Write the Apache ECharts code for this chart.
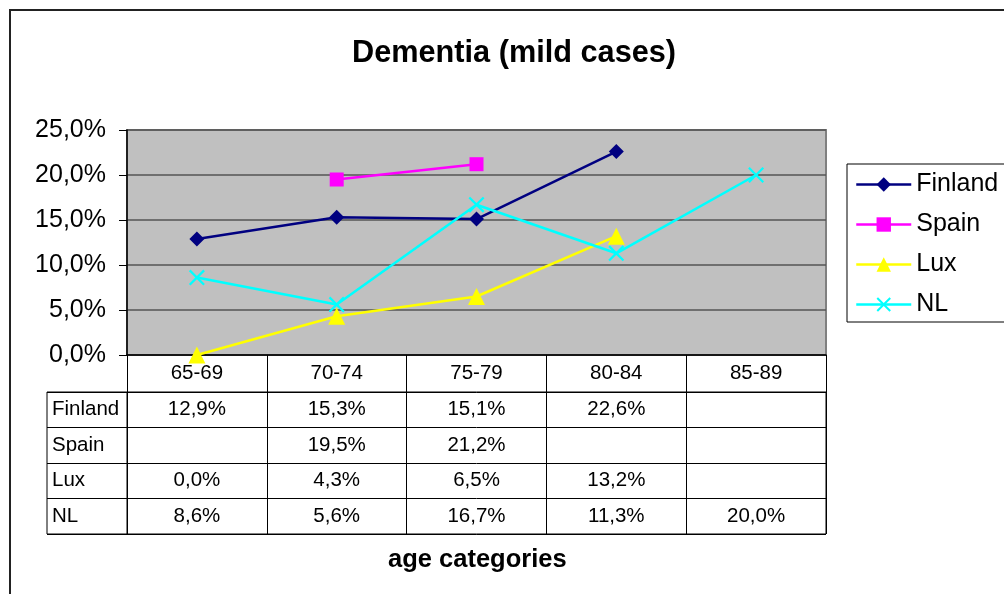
<!DOCTYPE html>
<html>
<head>
<meta charset="utf-8">
<title>Dementia (mild cases)</title>
<script src="https://cdn.jsdelivr.net/npm/echarts@6/dist/echarts.min.js"></script>
<style>
  html, body { margin: 0; padding: 0; background: #fff; }
  #chart { width: 1004px; height: 594px; }
</style>
</head>
<body>
<div id="chart"></div>
<script>
// Age groups on the x axis
const categories = ['65-69', '70-74', '75-79', '80-84', '85-89'];

// Share of mild dementia cases per country, in percent (null = no data)
const finland = [12.9, 15.3, 15.1, 22.6, null];
const spain   = [null, 19.5, 21.2, null, null];
const lux     = [0.0, 4.3, 6.5, 13.2, null];
const nl      = [8.6, 5.6, 16.7, 11.3, 20.0];

const countries = ['Finland', 'Spain', 'Lux', 'NL'];
const seriesValues = [finland, spain, lux, nl];

// Y axis ticks in percent
const yTicks = [0, 5, 10, 15, 20, 25];

const FONT = "'Liberation Sans', Arial, sans-serif";
const TABLE_FONT_SIZE = 20.5;
const pct = v => v.toFixed(1).replace('.', ',') + '%';

// Cells of the data table under the plot: [column, row, value]
const tableCells = [];
seriesValues.forEach((vals, r) => {
  vals.forEach((v, c) => { if (v !== null) tableCells.push([c, r, v]); });
});

const crossSymbol = 'path://M0,1L1,0L5,4L9,0L10,1L6,5L10,9L9,10L5,6L1,10L0,9L4,5Z';

const colors = ['#000080', '#FF00FF', '#FFFF00', '#00FFFF'];
const symbols = ['diamond', 'rect', 'triangle', crossSymbol];
const symbolSizes = [15, 14, 17, 16];

const chart = echarts.init(document.getElementById('chart'), null, { renderer: 'canvas' });

const lineSeries = countries.map((name, i) => ({
  name: name,
  type: 'line',
  xAxisIndex: 0,
  yAxisIndex: 0,
  data: seriesValues[i],
  symbol: symbols[i],
  symbolSize: symbolSizes[i],
  showAllSymbol: true,
  clip: false,
  lineStyle: { color: colors[i], width: 2.5 },
  itemStyle: { color: colors[i] },
  emphasis: { disabled: true },
  z: 3 + i
}));

chart.setOption({
  animation: false,
  textStyle: { fontFamily: FONT, color: '#000' },
  title: [
    {
      text: 'Dementia (mild cases)',
      left: 347,
      top: 33,
      textStyle: { fontFamily: FONT, fontSize: 30.7, fontWeight: 'bold', color: '#000' }
    },
    {
      text: 'age categories',
      left: 383,
      top: 542,
      textStyle: { fontFamily: FONT, fontSize: 25.5, fontWeight: 'bold', color: '#000' }
    }
  ],
  legend: {
    orient: 'vertical',
    left: 847,
    top: 164,
    data: countries,
    itemWidth: 55,
    itemHeight: 18,
    itemGap: 15,
    padding: [8, 40, 5, 8],
    borderColor: '#000',
    borderWidth: 1,
    backgroundColor: '#fff',
    lineStyle: { width: 2.5 },
    textStyle: { fontFamily: FONT, fontSize: 25, color: '#000' },
    selectedMode: false
  },
  graphic: [
    {
      type: 'rect',
      shape: { x: 10, y: 10, width: 1100, height: 700 },
      style: { fill: 'none', stroke: '#222', lineWidth: 2 },
      silent: true,
      z: 0
    }
  ],
  grid: [
    { left: 127, top: 130, width: 699, height: 225, show: true,
      backgroundColor: '#C0C0C0', borderColor: '#808080', borderWidth: 2 },
    { left: 127, top: 392, width: 699, height: 142, show: true,
      backgroundColor: '#fff', borderColor: '#000', borderWidth: 1 },
    { left: 47, top: 392, width: 80, height: 142, show: true,
      backgroundColor: '#fff', borderColor: '#000', borderWidth: 1 }
  ],
  xAxis: [
    {
      gridIndex: 0,
      type: 'category',
      data: categories,
      boundaryGap: true,
      axisLine: { show: true, lineStyle: { color: '#000', width: 1.5 } },
      axisTick: { show: true, length: 37, interval: 0, lineStyle: { color: '#000', width: 1 } },
      axisLabel: { fontSize: TABLE_FONT_SIZE, margin: 8, color: '#000', fontFamily: FONT, interval: 0 },
      splitLine: { show: false }
    },
    {
      gridIndex: 1,
      type: 'category',
      data: categories,
      boundaryGap: true,
      axisLine: { show: false },
      axisTick: { show: false },
      axisLabel: { show: false },
      splitLine: { show: true, interval: 0, lineStyle: { color: '#000', width: 1 } }
    },
    {
      gridIndex: 2,
      type: 'value',
      show: false
    }
  ],
  yAxis: [
    {
      gridIndex: 0,
      type: 'value',
      min: yTicks[0],
      max: yTicks[yTicks.length - 1],
      interval: yTicks[1] - yTicks[0],
      axisLine: { show: true, lineStyle: { color: '#000', width: 1.5 } },
      axisTick: { show: true, length: 8, lineStyle: { color: '#000', width: 1 } },
      axisLabel: { fontSize: 25, margin: 21, color: '#000', fontFamily: FONT, formatter: v => pct(v) },
      splitLine: { show: true, lineStyle: { color: '#555', width: 1.5 } }
    },
    {
      gridIndex: 1,
      type: 'category',
      data: countries,
      inverse: true,
      axisLine: { show: false },
      axisTick: { show: false },
      axisLabel: { show: false },
      splitLine: { show: true, interval: 0, lineStyle: { color: '#000', width: 1 } }
    },
    {
      gridIndex: 2,
      type: 'category',
      data: countries,
      inverse: true,
      axisLine: { show: false },
      axisTick: { show: false },
      axisLabel: {
        show: true, inside: true, margin: 5, fontSize: TABLE_FONT_SIZE, color: '#000',
        fontFamily: FONT, interval: 0, padding: [3, 0, 0, 0]
      },
      splitLine: { show: true, interval: 0, lineStyle: { color: '#000', width: 1 } }
    }
  ],
  series: lineSeries.concat([
    {
      name: 'table',
      type: 'scatter',
      xAxisIndex: 1,
      yAxisIndex: 1,
      data: tableCells,
      symbolSize: 1,
      itemStyle: { color: 'rgba(0,0,0,0)', opacity: 1 },
      silent: true,
      label: {
        show: true,
        position: 'inside',
        fontSize: TABLE_FONT_SIZE,
        color: '#000',
        textBorderWidth: 0,
        textBorderColor: 'transparent',
        fontFamily: FONT,
        formatter: p => pct(p.value[2])
      },
      emphasis: { disabled: true }
    }
  ])
});
</script>
</body>
</html>
